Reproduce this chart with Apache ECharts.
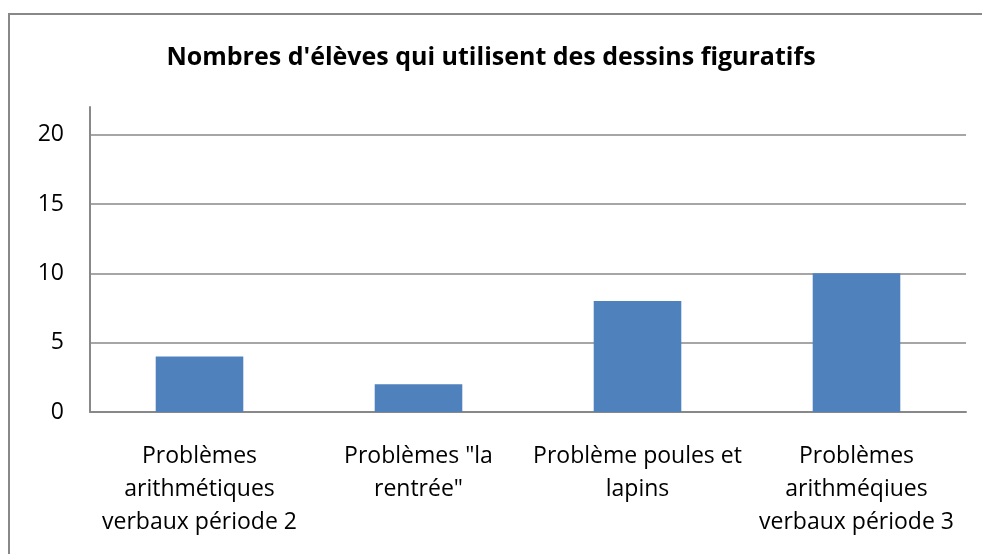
<!DOCTYPE html>
<html>
<head>
<meta charset="utf-8">
<script src="https://cdn.jsdelivr.net/npm/echarts@6/dist/echarts.min.js"></script>
<style>
html, body { margin: 0; padding: 0; background: #fff; }
#main { width: 982px; height: 554px; }
</style>
</head>
<body>
<div id="main"></div>
<script>
// données
var categories = [
    'Problèmes\narithmétiques\nverbaux période 2',
    'Problèmes "la\nrentrée"',
    'Problème poules et\nlapins',
    'Problèmes\narithméqiues\nverbaux période 3'
];
var valeurs = [4, 2, 8, 10];
var titre = "Nombres d'élèves qui utilisent des dessins figuratifs";

var myChart = echarts.init(document.getElementById('main'));
var police = '"Open Sans", Lato, sans-serif';
var option = {
    backgroundColor: '#fff',
    animation: false,
    title: {
        text: titre,
        left: 'center',
        top: 40,
        textStyle: {
            fontFamily: police,
            fontSize: 25,
            fontWeight: 'bold',
            color: '#000'
        }
    },
    graphic: [{
        type: 'rect',
        shape: { x: 9, y: 14, width: 1000, height: 600 },
        style: { fill: 'none', stroke: '#888', lineWidth: 2 },
        silent: true
    }],
    grid: {
        left: 90,
        right: 16,
        top: 107,
        bottom: 142
    },
    xAxis: {
        type: 'category',
        data: categories,
        axisLine: { lineStyle: { color: '#888', width: 2 } },
        axisTick: { show: false },
        axisLabel: {
            color: '#000',
            fontFamily: police,
            fontSize: 23,
            lineHeight: 33,
            margin: 28,
            interval: 0
        }
    },
    yAxis: {
        type: 'value',
        min: 0,
        max: 22,
        interval: 5,
        axisLine: { show: true, lineStyle: { color: '#888', width: 2 } },
        axisTick: { show: false },
        axisLabel: {
            color: '#000',
            fontFamily: police,
            fontSize: 23,
            margin: 26,
            showMaxLabel: false
        },
        splitLine: {
            show: true,
            showMaxLine: false,
            lineStyle: { color: '#888', width: 1.5 }
        }
    },
    series: [{
        type: 'bar',
        data: valeurs,
        barWidth: '40%',
        itemStyle: { color: '#4f81bd' }
    }]
};
myChart.setOption(option);
</script>
</body>
</html>
